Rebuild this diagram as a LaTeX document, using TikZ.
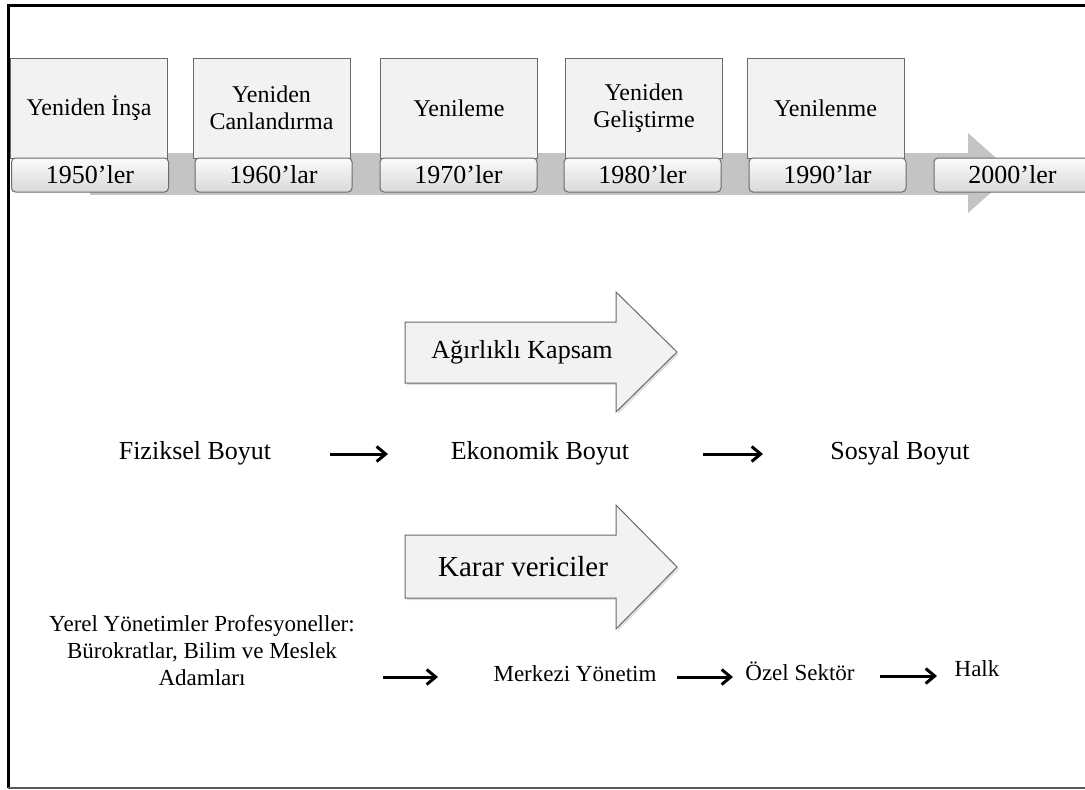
\documentclass[tikz,border=0pt]{standalone}
\usepackage{fontspec}
\setmainfont{Liberation Serif}
\usetikzlibrary{arrows.meta, shadows}
\definecolor{kutudolgu}{HTML}{F2F2F2}
\definecolor{kutukenar}{HTML}{6A6A6A}
\definecolor{serit}{HTML}{C4C4C4}

\begin{document}
\begin{tikzpicture}[x=1pt, y=-1pt,
  donem/.style={draw=kutukenar, fill=kutudolgu, line width=1pt, minimum width=157pt,
    minimum height=100pt, align=center, inner sep=2pt, font=\fontsize{24}{27}\selectfont},
  yil/.style={draw=kutukenar, rounded corners=4pt, top color=gray!3, bottom color=gray!30,
    line width=1pt, minimum width=157pt, minimum height=34pt, inner sep=0pt,
    font=\fontsize{26}{30}\selectfont},
  boyut/.style={inner sep=0pt, text height=15pt, text depth=5pt, font=\fontsize{26}{30}\selectfont},
  aktor/.style={inner sep=0pt, text height=14pt, text depth=5pt, align=center,
    font=\fontsize{23}{27}\selectfont},
  buyukok/.style={draw=kutukenar, fill=kutudolgu, line width=1pt,
    drop shadow={shadow xshift=2pt, shadow yshift=-2pt, opacity=0.25}},
  akis/.style={-{Straight Barb[length=9pt, width=15pt]}, line width=3pt}]

\useasboundingbox (0,0) rectangle (1085,790);
\clip (0,0) rectangle (1085,790);

% ---- frame -------------------------------------------------------------
\draw[line width=3pt] (1100,5) -- (8,5) -- (8,788);
\draw[gray!70!black, line width=1.5pt] (8,788) -- (1100,788);

% ---- timeline band -----------------------------------------------------
\fill[serit] (90,153) rectangle (968,195);
\fill[serit] (968,133) -- (1013,173) -- (968,213) -- cycle;

% ---- period boxes ------------------------------------------------------
\node[donem] (d1) at (89,108)    {Yeniden İnşa};
\node[donem] (d2) at (271.5,108) {Yeniden\\Canlandırma};
\node[donem] (d3) at (459,108)   {Yenileme};
\node[donem] (d4) at (644,108)   {Yeniden\\Geliştirme};
\node[donem] (d5) at (825.5,108) {Yenilenme};

% ---- decade tabs -------------------------------------------------------
\node[yil] (y1) at (90,175)     {1950’ler};
\node[yil] (y2) at (273.5,175)  {1960’lar};
\node[yil] (y3) at (458.5,175)  {1970’ler};
\node[yil] (y4) at (642.5,175)  {1980’ler};
\node[yil] (y5) at (827.5,175)  {1990’lar};
\node[yil] (y6) at (1012.5,175) {2000’ler};

% ---- scope (Ağırlıklı Kapsam) ------------------------------------------
\draw[buyukok] (405,322) -- (616,322) -- (616,292) -- (677,352) -- (616,412)
  -- (616,383) -- (405,383) -- cycle;
\node[font=\fontsize{26}{30}\selectfont] (kapsam) at (522,352) {Ağırlıklı Kapsam};

\node[boyut] (fiz) at (195,454) {Fiziksel Boyut};
\node[boyut] (eko) at (540,454) {Ekonomik Boyut};
\node[boyut] (sos) at (900,454) {Sosyal Boyut};
\draw[akis, shorten <=135pt, shorten >=152pt] (fiz.center) -- (eko.center);
\draw[akis, shorten <=163pt, shorten >=137pt] (eko.center) -- (sos.center);

% ---- decision makers (Karar vericiler) ---------------------------------
\draw[buyukok] (405,535) -- (616,535) -- (616,505) -- (677,567) -- (616,629)
  -- (616,598) -- (405,598) -- cycle;
\node[font=\fontsize{29}{33}\selectfont] (karar) at (523,567) {Karar vericiler};

\node[aktor] (yerel) at (202,681)
  {Yerel Yönetimler Profesyoneller:\\Bürokratlar, Bilim ve Meslek\\Adamları};
\node[aktor] (merk) at (575,677) {Merkezi Yönetim};
\node[aktor] (ozel) at (800,676) {Özel Sektör};
\node[aktor] (halk) at (977,672) {Halk};
\draw[akis, shorten <=181pt, shorten >=137pt] (merk.center -| yerel.center) -- (merk.center);
\draw[akis, shorten <=102pt, shorten >=67pt] (merk.center) -- (merk.center -| ozel.center);
\draw[akis, shorten <=80pt, shorten >=40pt] (ozel.center) -- (ozel.center -| halk.center);
\end{tikzpicture}
\end{document}
